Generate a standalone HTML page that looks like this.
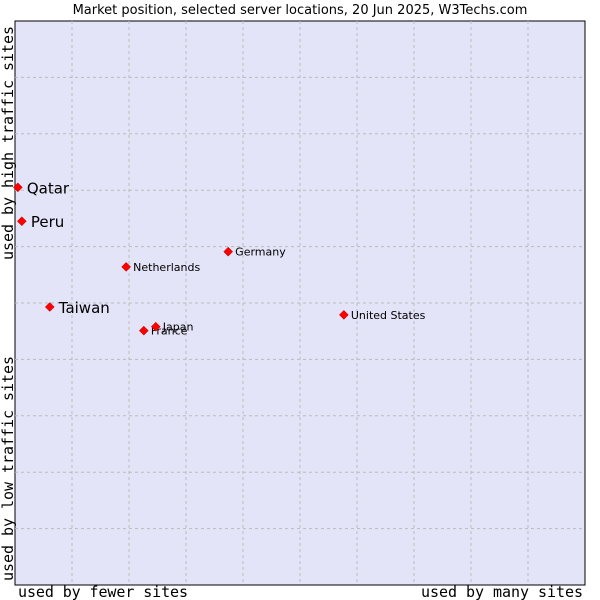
<!DOCTYPE html>
<html><head><meta charset="utf-8"><style>
body{margin:0;background:#fff;}
svg{display:block;font-family:"DejaVu Sans","Liberation Sans",sans-serif;}
.mono{font-family:"DejaVu Sans Mono","Liberation Mono",monospace;}
</style></head><body>
<svg id="chart" width="600" height="600">
<text x="300" y="14" text-anchor="middle" font-size="13">Market position, selected server locations, 20 Jun 2025, W3Techs.com</text>
<rect x="15" y="21" width="570" height="564" fill="#e3e4f8" stroke="#000" stroke-width="1"/>
<g id="grid"></g>
<g id="pts"></g>
<text class="mono" x="18" y="597" font-size="15" textLength="170">used by fewer sites</text>
<text class="mono" x="421" y="597" font-size="15" textLength="162">used by many sites</text>
<text class="mono" transform="translate(13,260) rotate(-90)" font-size="15" textLength="234">used by high traffic sites</text>
<text class="mono" transform="translate(13,581) rotate(-90)" font-size="15" textLength="225">used by low traffic sites</text>
</svg>
<script>
const countries=["Qatar","Peru","Taiwan","Netherlands","Germany","France","Japan","United States"];
const xVals=[0.5,1.2,6.1,19.5,37.4,22.6,24.7,57.7];
const yVals=[70.5,64.5,49.3,56.4,59.1,45.1,45.8,47.9];
const big=[true,true,true,false,false,false,false,false];
const X0=15,W=570,Y0=21,H=564;
const sx=v=>X0+v/100*W, sy=v=>Y0+H-v/100*H;
const NS="http://www.w3.org/2000/svg";
const grid=document.getElementById('grid');
for(let i=1;i<10;i++){
  const lv=document.createElementNS(NS,'line');
  lv.setAttribute('x1',sx(i*10));lv.setAttribute('x2',sx(i*10));lv.setAttribute('y1',Y0);lv.setAttribute('y2',Y0+H);
  lv.setAttribute('stroke','#bbbbbb');lv.setAttribute('stroke-dasharray','3,3');
  
  
  grid.appendChild(lv);
  const lh=document.createElementNS(NS,'line');
  lh.setAttribute('y1',sy(i*10));lh.setAttribute('y2',sy(i*10));lh.setAttribute('x1',X0);lh.setAttribute('x2',X0+W);
  lh.setAttribute('stroke','#bbbbbb');lh.setAttribute('stroke-dasharray','3,3');
  
  
  grid.appendChild(lh);
}
const pts=document.getElementById('pts');
countries.forEach((c,i)=>{
  const x=sx(xVals[i]),y=sy(yVals[i]);
  const g=document.createElementNS(NS,'g');
  
  
  const d=document.createElementNS(NS,'path');
  d.setAttribute('d',`M${x} ${y-4.5}L${x+4.5} ${y}L${x} ${y+4.5}L${x-4.5} ${y}Z`);
  d.setAttribute('fill','#f00');d.setAttribute('stroke','#a00');d.setAttribute('stroke-width','0.5');
  g.appendChild(d);
  const t=document.createElementNS(NS,'text');
  t.setAttribute('x',x+(big[i]?9:7));t.setAttribute('y',y+(big[i]?6:4));
  t.setAttribute('font-size',big[i]?15:11);
  t.textContent=c;
  g.appendChild(t);
  pts.appendChild(g);
});
</script>
</body></html>
